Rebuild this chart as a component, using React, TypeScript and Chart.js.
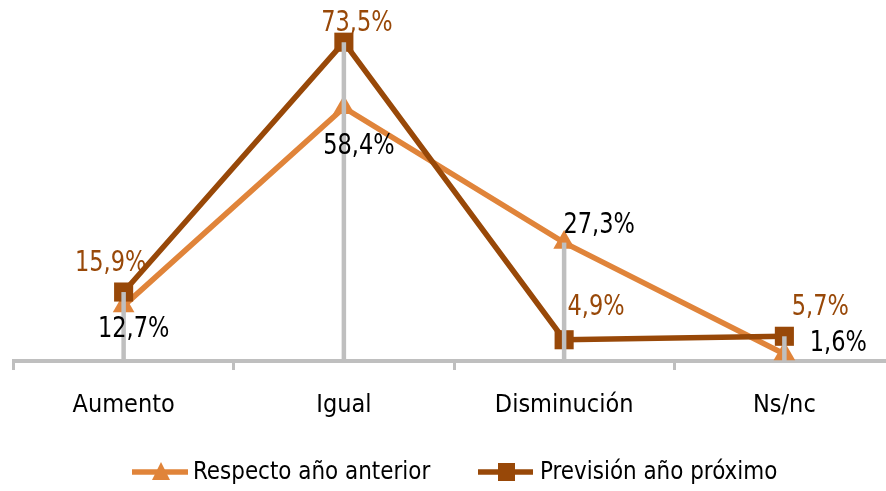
import React, { useEffect, useRef } from "react";
import { Chart, registerables } from "chart.js";

Chart.register(...registerables);

const categories = ["Aumento", "Igual", "Disminución", "Ns/nc"];
const respectoAnterior = [12.7, 58.4, 27.3, 1.6];
const prevision = [15.9, 73.5, 4.9, 5.7];
const seriesNames = ["Respecto año anterior", "Previsión año próximo"];

const ORANGE = "#E0843A";
const BROWN = "#984808";
const GRAY = "#BFBFBF";
const FONT = "'DejaVu Sans Condensed', 'DejaVu Sans', sans-serif";
const FSIZE = 25;

// label offsets (pixels) relative to each point
const offsetsRespecto = [
  [10, 24],
  [15, 39],
  [35, -17],
  [54, -10],
];
const offsetsPrevision = [
  [-13, -28],
  [13, -19],
  [32, -32],
  [36, -29],
];

const fmt = (v: number) => v.toFixed(1).replace(".", ",") + "%";

function scaledText(ctx: any, text: string, x: number, y: number, sx: number, sy: number) {
  ctx.save();
  ctx.translate(x, y);
  ctx.scale(sx, sy);
  ctx.fillText(text, 0, 0);
  ctx.restore();
}

const customPlugin = {
  id: "customDraw",
  afterDatasetsDraw(chart: any) {
    const ctx = chart.ctx;
    const bottom = chart.chartArea.bottom;
    const m0 = chart.getDatasetMeta(0);
    const m1 = chart.getDatasetMeta(1);
    ctx.save();
    // high-low drop lines
    ctx.strokeStyle = GRAY;
    ctx.lineWidth = 4.5;
    for (let i = 0; i < categories.length; i++) {
      const p0 = m0.data[i];
      const p1 = m1.data[i];
      const top = Math.min(p0.y, p1.y);
      ctx.beginPath();
      ctx.moveTo(p0.x, top);
      ctx.lineTo(p0.x, bottom);
      ctx.stroke();
    }
    // data labels
    ctx.font = `${FSIZE}px ${FONT}`;
    ctx.textAlign = "center";
    ctx.textBaseline = "middle";
    for (let i = 0; i < categories.length; i++) {
      const p0 = m0.data[i];
      ctx.fillStyle = "#000000";
      scaledText(ctx, fmt(respectoAnterior[i]), p0.x + offsetsRespecto[i][0], p0.y + offsetsRespecto[i][1], 1, 1.14);
      const p1 = m1.data[i];
      ctx.fillStyle = BROWN;
      scaledText(ctx, fmt(prevision[i]), p1.x + offsetsPrevision[i][0], p1.y + offsetsPrevision[i][1], 1, 1.14);
    }
    ctx.restore();
  },
  afterDraw(chart: any) {
    const ctx = chart.ctx;
    ctx.save();
    const y = 472;
    // legend item 1
    ctx.strokeStyle = ORANGE;
    ctx.lineWidth = 5.5;
    ctx.beginPath();
    ctx.moveTo(132, y);
    ctx.lineTo(188, y);
    ctx.stroke();
    ctx.fillStyle = ORANGE;
    ctx.beginPath();
    ctx.moveTo(161, y - 10);
    ctx.lineTo(170, y + 8);
    ctx.lineTo(152, y + 8);
    ctx.closePath();
    ctx.fill();
    // legend item 2
    ctx.strokeStyle = BROWN;
    ctx.beginPath();
    ctx.moveTo(478, y);
    ctx.lineTo(533, y);
    ctx.stroke();
    ctx.fillStyle = BROWN;
    ctx.fillRect(498, y - 9, 17, 18);
    // texts
    ctx.font = `${FSIZE}px ${FONT}`;
    ctx.textAlign = "left";
    ctx.textBaseline = "middle";
    ctx.fillStyle = "#000000";
    scaledText(ctx, seriesNames[0], 193, y, 0.955, 1);
    scaledText(ctx, seriesNames[1], 540, y, 0.955, 1);
    ctx.restore();
  },
};

export default function App() {
  const canvasRef = useRef<HTMLCanvasElement | null>(null);

  useEffect(() => {
    if (!canvasRef.current) return;
    const chart = new Chart(canvasRef.current, {
      type: "line",
      data: {
        labels: categories,
        datasets: [
          {
            label: seriesNames[0],
            data: respectoAnterior,
            borderColor: ORANGE,
            backgroundColor: ORANGE,
            borderWidth: 5.5,
            pointStyle: "triangle",
            pointRadius: 12.5,
            pointBorderWidth: 0,
            pointBackgroundColor: ORANGE,
            tension: 0,
            clip: false as any,
            order: 2,
          },
          {
            label: seriesNames[1],
            data: prevision,
            borderColor: BROWN,
            backgroundColor: BROWN,
            borderWidth: 5.5,
            pointStyle: "rect",
            pointRadius: 13.5,
            pointBorderWidth: 0,
            pointBackgroundColor: BROWN,
            tension: 0,
            clip: false as any,
            order: 1,
          },
        ],
      },
      options: {
        responsive: false,
        animation: false,
        devicePixelRatio: 1,
        layout: { padding: { left: 5, right: 6, top: 14, bottom: 51 } },
        plugins: {
          legend: { display: false },
          tooltip: { enabled: false },
        },
        scales: {
          x: {
            offset: true,
            grid: {
              offset: true,
              drawOnChartArea: false,
              drawTicks: true,
              tickLength: 9,
              color: GRAY,
              lineWidth: 3,
            },
            border: { display: true, color: GRAY, width: 4 },
            ticks: {
              color: "#000000",
              font: { family: FONT, size: FSIZE },
              padding: 20,
              maxRotation: 0,
            },
          },
          y: {
            display: false,
            min: 0,
            max: 80,
          },
        },
      },
      plugins: [customPlugin],
    });
    return () => chart.destroy();
  }, []);

  return (
    <div
      style={{
        position: "fixed",
        left: 0,
        top: 0,
        width: 886,
        height: 491,
        overflow: "hidden",
        background: "#ffffff",
      }}
    >
      <canvas ref={canvasRef} width={908} height={491} style={{ display: "block" }} />
    </div>
  );
}
